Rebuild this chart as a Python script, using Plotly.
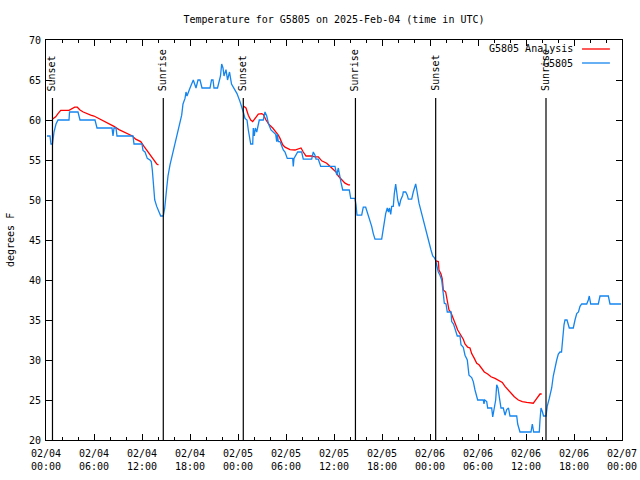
import pandas as pd
import plotly.graph_objects as go

# ---- data (hours after 2025-02-04 00:00 UTC, degrees F) ----
obs_hours = [0.125, 0.5, 0.625, 0.81, 1.0, 1.25, 1.5, 2.875, 2.94, 4.0, 4.25, 6.125, 6.375, 8.25, 8.375, 8.5,
             8.75, 8.875, 10.875, 11.0, 12.0, 12.125, 12.375, 12.66, 13.0, 13.16, 13.29, 13.41, 13.59, 13.84,
             14.125, 14.34, 14.66, 14.84, 15.09, 15.25, 15.5, 15.79, 16.125, 16.54, 16.96, 17.125, 17.375,
             17.5, 17.625, 18.0, 18.25, 18.41, 18.75, 19.0, 19.25, 19.5, 20.5, 20.69, 20.875, 21.0, 21.44,
             21.625, 21.81, 21.96, 22.125, 22.25, 22.5, 22.69, 22.94, 23.19, 23.5, 23.875, 24.25, 24.5, 24.66,
             24.875, 25.125, 25.29, 25.59, 25.84, 25.91, 26.04, 26.16, 26.34, 26.66, 27.16, 27.375, 27.59,
             27.79, 28.125, 28.71, 28.84, 28.91, 29.04, 29.25, 29.375, 29.66, 29.875, 30.16, 30.84, 30.91,
             31.0, 31.25, 31.46, 31.96, 32.16, 33.21, 33.41, 33.625, 33.75, 34.04, 34.34, 36.125, 36.25,
             36.34, 36.54, 36.75, 36.875, 37.09, 37.91, 38.09, 38.625, 38.75, 38.875, 39.46, 39.66, 39.96,
             40.125, 40.29, 40.5, 40.71, 40.91, 41.125, 41.96, 42.09, 42.25, 42.46, 42.66, 42.81, 42.94,
             43.09, 43.21, 43.41, 43.54, 43.71, 43.84, 43.96, 44.16, 44.34, 44.59, 44.66, 44.96, 45.16,
             45.29, 45.71, 45.91, 46.125, 46.21, 46.31, 46.46, 46.625, 46.96, 47.25, 47.59, 47.875, 48.125,
             48.34, 48.54, 48.69, 48.84, 49.04, 49.25, 49.46, 49.66, 49.79, 50.0, 50.16, 50.625, 50.71,
             50.94, 51.21, 51.41, 51.75, 51.875, 52.16, 52.375, 52.66, 52.875, 53.21, 53.41, 53.625, 53.84,
             53.96, 54.66, 54.75, 54.84, 55.09, 55.21, 55.71, 55.84, 56.0, 56.21, 56.34, 56.5, 56.66,
             56.875, 57.16, 57.375, 57.59, 57.81, 58.0, 58.84, 58.96, 59.25, 60.625, 60.79, 60.96, 61.66,
             61.75, 61.875, 62.06, 62.19, 62.5, 62.66, 62.91, 63.21, 63.41, 63.625, 63.84, 64.04, 64.25,
             64.44, 64.59, 64.75, 64.875, 65.125, 65.41, 65.91, 66.125, 66.34, 66.56, 66.75, 66.96, 67.59,
             67.79, 67.91, 68.09, 69.04, 69.25, 70.29, 70.5, 71.875]
obs_temps = [58, 58, 57, 57, 58.5, 59.5, 60, 60, 61, 61, 60, 60, 59, 59, 58, 59,
             59, 58, 58, 57, 57, 56.2, 56, 55.2, 55, 54.8, 53.75, 51.7, 50, 49.2,
             48.5, 48, 48, 49, 51.5, 53, 54.4, 55.6, 57.2, 59, 60.6, 62, 62.7,
             63.5, 63, 64, 64.5, 65, 64, 65, 65, 64, 64, 65, 65, 64, 64,
             65, 65.5, 67, 66.5, 65.5, 66.3, 65, 66, 64.5, 64, 63.3, 62.3, 61.3, 61,
             60.2, 60, 58.75, 57, 57, 59, 58, 59, 58.5, 60, 60, 61, 60.5,
             59.6, 58.75, 58.2, 57.3, 58.2, 57.3, 57.3, 57, 56.25, 56, 55.2, 55.2, 54.2,
             55.2, 55.6, 56, 56, 55.1, 55.1, 56, 55.6, 55.1, 55.1, 54.2, 54.2, 53.5,
             53.1, 54, 52.7, 52.2, 51.25, 51.25, 50.2, 50.2, 49.4, 48.1, 48.1, 49.1, 49.1,
             48.6, 48.1, 47.5, 46.7, 45.8, 45.1, 45.1, 46, 47.1, 48.3, 49, 48.5, 49,
             48.2, 49.2, 49.2, 50.8, 52, 51, 50, 49.2, 50, 50.6, 51, 51, 50.6,
             50.1, 50.1, 51, 51.9, 52, 51.5, 50.6, 49.6, 48.3, 47.1, 45.8, 44.8, 43.75,
             43, 42.8, 42.5, 41.9, 41, 40.6, 40, 38.3, 37.1, 37, 36, 36, 34.8,
             34.5, 33.75, 33, 33, 31.9, 31.6, 30.6, 30, 28.1, 27.8, 27.3, 26.25, 25.6,
             25, 25, 24.5, 25, 24.8, 24, 24, 22.9, 24, 25, 26.9, 26.5, 25.4,
             24, 24, 23.1, 23.8, 24, 23, 23, 22, 21, 21, 22, 21, 21,
             22.5, 24, 23.5, 23, 23, 24.25, 25.2, 26.5, 28, 29.2, 30, 30.75, 31,
             31, 33.3, 34.4, 35, 35, 34, 34, 35, 35.8, 36, 36.7, 37, 37,
             37.5, 38, 37, 37, 38, 38, 37, 37]

ana1_hours = [0.79, 1.21, 1.5, 1.84, 2.875, 3.16, 3.59, 3.91, 4.25, 4.66, 5.09, 5.59, 6.0, 6.41, 6.84,
              7.25, 7.875, 8.5, 9.125, 9.75, 10.375, 10.79, 11.21, 11.84, 12.25, 12.75, 13.09, 13.5,
              13.84, 14.06]
ana1_temps = [60.1, 60.4, 60.8, 61.2, 61.2, 61.4, 61.6, 61.6, 61.25, 61, 60.8, 60.6, 60.5, 60.3, 60.1,
              59.9, 59.6, 59.2, 58.8, 58.5, 58.3, 58, 57.6, 57.3, 56.7, 56, 55.6, 55, 54.5, 54.4]
ana2_hours = [24.66, 25.0, 25.29, 25.59, 25.84, 26.125, 26.54, 26.96, 27.16, 27.5, 27.91, 28.34, 28.75,
              29.04, 29.25, 29.59, 29.875, 30.5, 31.125, 31.54, 31.875, 32.16, 32.5, 33.21, 33.625,
              34.04, 34.46, 35.09, 35.5, 35.91, 36.25, 36.54, 36.96, 37.375, 37.79, 38.0]
ana2_temps = [61.75, 61.5, 60.6, 60, 59.8, 60.2, 60.75, 60.8, 60.7, 60, 59.4, 59, 58.5,
              58.1, 57.7, 56.9, 56.6, 56.3, 56.25, 56.4, 56.5, 56, 55.5, 55.5, 55.4,
              55.4, 54.9, 54.6, 54.2, 53.8, 53.5, 53, 52.6, 52.1, 51.9, 51.9]
ana3_hours = [48.71, 49.04, 49.125, 49.375, 49.54, 49.66, 49.96, 50.09, 50.29, 50.375, 50.59, 50.79,
              51.04, 51.21, 51.46, 51.75, 51.96, 52.16, 52.375, 52.71, 53.0, 53.21, 53.54, 53.84,
              54.125, 54.46, 54.79, 55.21, 55.625, 56.125, 56.625, 57.04, 57.375, 57.71, 58.125,
              58.54, 59.04, 59.54, 60.09, 60.625, 60.91, 61.125, 61.46, 61.75, 61.96]
ana3_temps = [42.4, 42.3, 41.25, 40.75, 40.1, 38.75, 38.5, 37.7, 36.9, 36.25, 36, 35.4,
              34.8, 34.4, 33.75, 33.25, 33, 32.6, 32, 31.6, 31.5, 30.8, 30.2, 29.6,
              29.4, 29, 28.5, 28.25, 27.9, 27.7, 27.4, 27.2, 26.7, 26.3, 25.8,
              25.4, 25, 24.8, 24.7, 24.6, 24.6, 24.9, 25.4, 25.75, 25.75]

event_hours = [0.81, 14.66, 24.66, 38.68, 48.71, 62.5]
event_labels = ["Sunset", "Sunrise", "Sunset", "Sunrise", "Sunset", "Sunrise"]

# ---- build ----
base = pd.Timestamp("2025-02-04 00:00")
def to_t(hs):
    return [base + pd.Timedelta(hours=h) for h in hs]

ana_x = to_t(ana1_hours) + [None] + to_t(ana2_hours) + [None] + to_t(ana3_hours)
ana_y = ana1_temps + [None] + ana2_temps + [None] + ana3_temps

RED = "#ff0000"
BLUE = "#1585ee"
FONT = "DejaVu Sans Mono"

fig = go.Figure()
fig.add_trace(go.Scatter(x=ana_x, y=ana_y, mode="lines", name="G5805 Analysis",
                         line=dict(color=RED, width=1.3), connectgaps=False, showlegend=False))
fig.add_trace(go.Scatter(x=to_t(obs_hours), y=obs_temps, mode="lines", name="G5805",
                         line=dict(color=BLUE, width=1.3), showlegend=False))

for h, lab in zip(event_hours, event_labels):
    t = base + pd.Timedelta(hours=h)
    fig.add_shape(type="line", xref="x", yref="paper", x0=t, x1=t, y0=0, y1=0.855,
                  line=dict(color="black", width=1.2))
    fig.add_annotation(x=t, y=0.8675, xref="x", yref="paper", text=lab, textangle=-90,
                       showarrow=False, xanchor="center", yanchor="bottom",
                       font=dict(family=FONT, size=10, color="black"))

# manual legend (gnuplot style: text right, sample line left)
for txt, col, yp in [("G5805 Analysis", RED, 0.9775), ("G5805", BLUE, 0.9425)]:
    fig.add_annotation(x=0.918, y=yp, xref="paper", yref="paper", text=txt, showarrow=False,
                       xanchor="right", yanchor="middle", font=dict(family=FONT, size=10, color="black"))
    fig.add_shape(type="line", xref="paper", yref="paper", x0=0.9306, x1=0.979, y0=yp, y1=yp,
                  line=dict(color=col, width=1.3))

fig.add_annotation(x=-0.0625, y=0.5, xref="paper", yref="paper", text="degrees F", textangle=-90,
                   showarrow=False, xanchor="center", yanchor="middle",
                   font=dict(family=FONT, size=10, color="black"))

fig.update_layout(
    width=640, height=480,
    margin=dict(l=46, r=18, t=40, b=40, autoexpand=False),
    paper_bgcolor="white", plot_bgcolor="white",
    font=dict(family=FONT, size=10, color="black"),
    title=dict(text="Temperature for G5805 on 2025-Feb-04 (time in UTC)", x=0.5, xref="paper",
               y=1 - 19 / 480, yanchor="middle", font=dict(family=FONT, size=10, color="black")),
    showlegend=False,
)
fig.update_xaxes(
    type="date", range=["2025-02-04 00:00", "2025-02-07 00:00"], automargin=False,
    dtick=6 * 3600 * 1000, tick0="2025-02-04 00:00", tickformat="%m/%d<br>%H:%M",
    ticks="inside", ticklen=6, tickcolor="black", showgrid=False, zeroline=False,
    showline=True, linecolor="black", linewidth=1, mirror="allticks", ticklabelstandoff=4,
    minor=dict(ticks="inside", dtick=2 * 3600 * 1000, ticklen=3, tickcolor="black", showgrid=False),
    tickfont=dict(family=FONT, size=10, color="black"),
)
fig.update_yaxes(
    range=[20, 70], dtick=5, tick0=20, ticks="inside", ticklen=6, tickcolor="black", automargin=False,
    showgrid=False, zeroline=False, showline=True, linecolor="black", linewidth=1, mirror="allticks",
    ticklabelstandoff=2,
    tickfont=dict(family=FONT, size=10, color="black"),
)

fig.write_html("out.html", config={"displayModeBar": False},
               post_script="document.body.style.margin='0';document.body.style.padding='0';")
